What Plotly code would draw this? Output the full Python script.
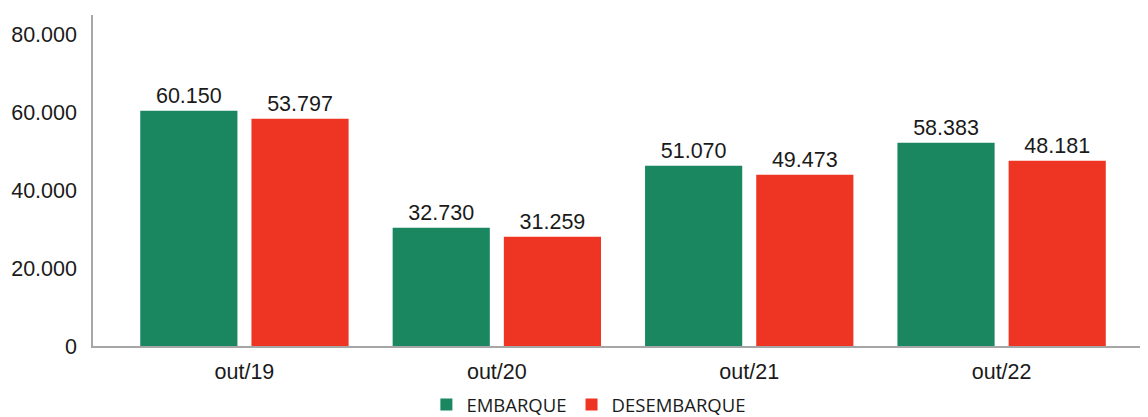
import plotly.graph_objects as go

categories = ["out/19", "out/20", "out/21", "out/22"]
embarque_bar = [60300, 30340, 46210, 52100]
desembarque_bar = [58240, 28030, 43910, 47490]
embarque_labels = ["60.150", "32.730", "51.070", "58.383"]
desembarque_labels = ["53.797", "31.259", "49.473", "48.181"]
ytick_vals = [0, 20000, 40000, 60000, 80000]
ytick_text = ["0", "20.000", "40.000", "60.000", "80.000"]

GREEN = "#1a8760"
RED = "#ee3524"
FONT = "Liberation Sans, Arial, sans-serif"
FS = 21.5

fig = go.Figure()
fig.add_trace(go.Bar(
    name="EMBARQUE", x=categories, y=embarque_bar, text=embarque_labels,
    texttemplate="%{text}", textposition="outside", cliponaxis=False,
    marker=dict(color=GREEN, line=dict(width=0)),
    textfont=dict(family=FONT, size=FS, color="#1a1a1a"),
))
fig.add_trace(go.Bar(
    name="DESEMBARQUE", x=categories, y=desembarque_bar, text=desembarque_labels,
    texttemplate="%{text}", textposition="outside", cliponaxis=False,
    marker=dict(color=RED, line=dict(width=0)),
    textfont=dict(family=FONT, size=FS, color="#1a1a1a"),
))

# page body has an 8px default margin, so the figure is shifted by 8px
fig.update_layout(
    width=1140, height=409,
    margin=dict(l=85, r=0, t=7, b=71, autoexpand=False),
    paper_bgcolor="white", plot_bgcolor="white",
    barmode="group", bargap=0.119, bargroupgap=0.126,
    font=dict(family=FONT, size=FS, color="#1a1a1a"),
    showlegend=True,
    legend=dict(
        orientation="h", x=0.316, xanchor="left", y=-0.178, yanchor="middle",
        font=dict(family="Open Sans, sans-serif", size=18.5, color="#1a1a1a"),
        itemwidth=30, traceorder="normal", bgcolor="rgba(0,0,0,0)",
    ),
)
fig.update_xaxes(
    range=[-0.6, 3.58], showline=True, linecolor="#a6a6a6", linewidth=1.5,
    showgrid=False, ticks="", automargin=False,
    tickfont=dict(family=FONT, size=FS, color="#1a1a1a"),
    ticklabelstandoff=5,
)
fig.update_yaxes(
    range=[0, 84870], showline=True, linecolor="#a6a6a6", linewidth=1.5,
    showgrid=False, zeroline=False, ticks="", automargin=False,
    tickvals=ytick_vals, ticktext=ytick_text,
    tickfont=dict(family=FONT, size=FS, color="#1a1a1a"),
    ticklabelstandoff=10,
)

fig.write_html("out.html")
